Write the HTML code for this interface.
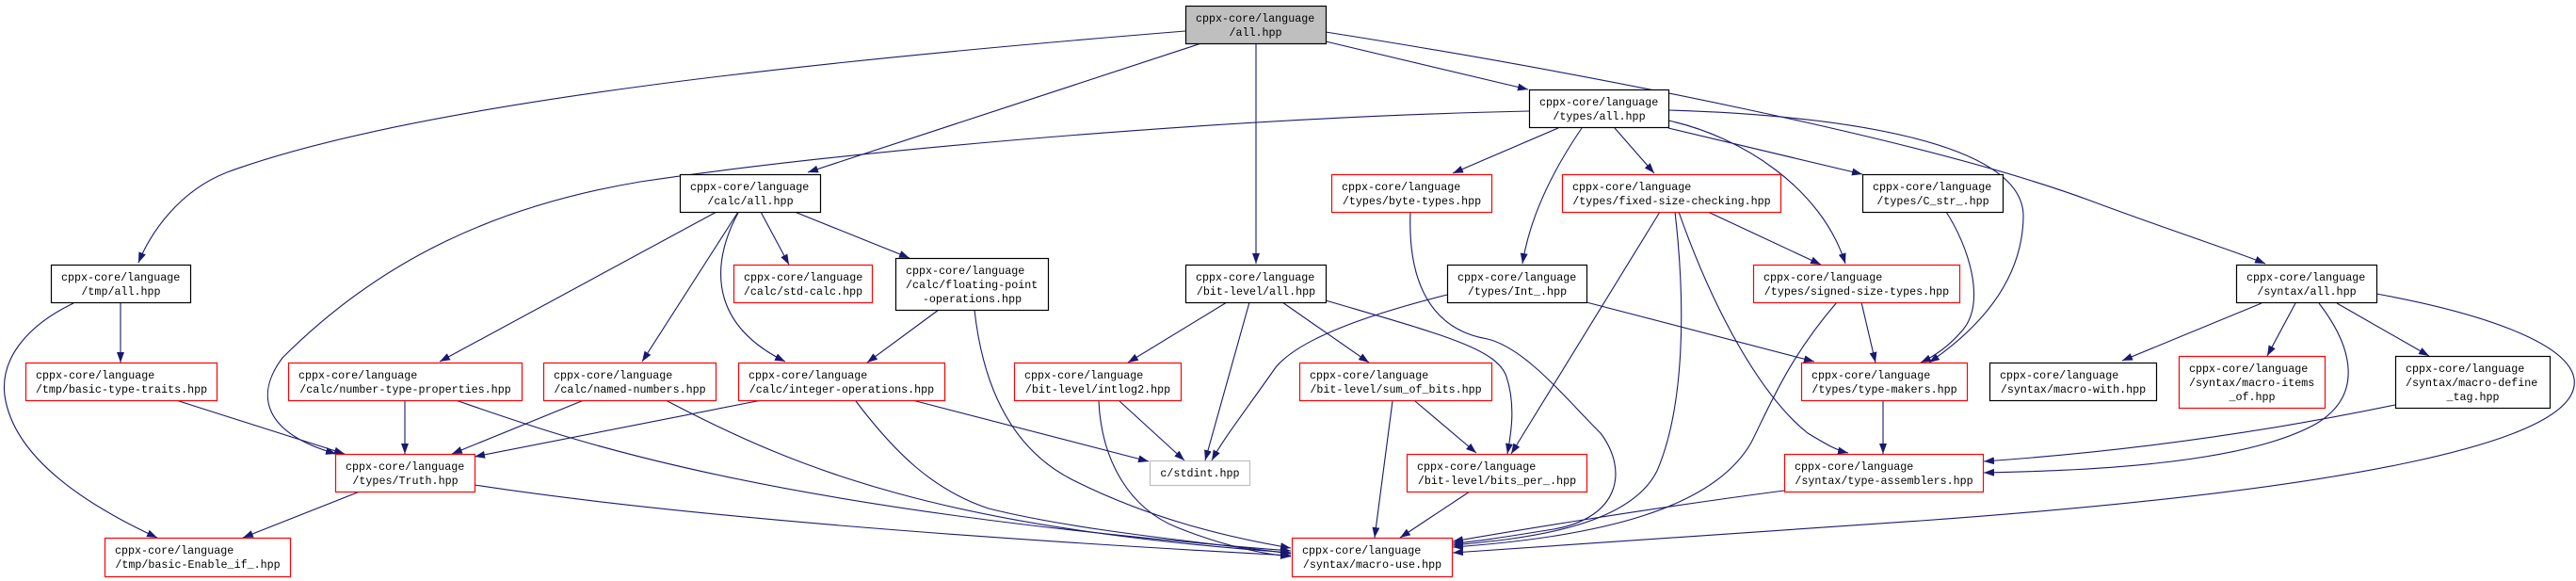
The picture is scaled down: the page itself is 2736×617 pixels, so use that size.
<!DOCTYPE html>
<html><head><meta charset="utf-8"><style>
html,body{margin:0;padding:0;background:#fff;}
svg{display:block;}
text{font-family:"Liberation Mono",monospace;font-size:11.7px;fill:#000;}
.e{fill:none;stroke:#191970;stroke-width:1.1;marker-end:url(#a);}
</style></head><body>
<svg width="2736" height="617" viewBox="0 0 2736 617" xmlns="http://www.w3.org/2000/svg">
<defs><marker id="a" markerUnits="userSpaceOnUse" markerWidth="11" markerHeight="8" refX="11" refY="4" orient="auto"><path d="M0,0 L11,4 L0,8 z" fill="#191970"/></marker></defs>
<g>
<path class="e" d="M1259,33 C900,62 450,106 241,183 C190,203 160,247 147,279"/>
<path class="e" d="M1276,46 L858,183"/>
<path class="e" d="M1334,46 L1334,280"/>
<path class="e" d="M1408,44 L1623,95"/>
<path class="e" d="M1408,34 C1700,80 2050,150 2220,213 C2300,243 2380,269 2406,280"/>
<path class="e" d="M1624,118 C1300,125 900,160 680,193 C520,220 400,280 300,380 C270,420 280,460 357,482"/>
<path class="e" d="M1655,136 L1543,184"/>
<path class="e" d="M1680,136 C1650,180 1625,230 1617,280"/>
<path class="e" d="M1715,136 L1757,184"/>
<path class="e" d="M1772,128 C1850,145 1935,200 1960,280"/>
<path class="e" d="M1772,136 L1978,185"/>
<path class="e" d="M1772,117 C1950,122 2150,150 2149,230 C2148,300 2100,350 2049,385"/>
<path class="e" d="M761,225 L467,384"/>
<path class="e" d="M784,225 L682,384"/>
<path class="e" d="M784,226 C760,270 745,340 834,384"/>
<path class="e" d="M808,225 L838,281"/>
<path class="e" d="M844,225 L966,274"/>
<path class="e" d="M128,321 L128,385"/>
<path class="e" d="M78,322 C30,345 0,380 5,420 C15,490 100,540 167,571"/>
<path class="e" d="M187,425 L366,482"/>
<path class="e" d="M430,425 L430,482"/>
<path class="e" d="M484,425 C600,465 800,540 1371,585"/>
<path class="e" d="M620,425 L480,482"/>
<path class="e" d="M707,425 C850,500 1000,560 1371,587"/>
<path class="e" d="M809,425 L504,485"/>
<path class="e" d="M909,426 C950,480 990,520 1050,540 C1150,565 1300,578 1371,588"/>
<path class="e" d="M969,425 L1220,490"/>
<path class="e" d="M997,329 L921,385"/>
<path class="e" d="M1035,329 C1045,420 1080,480 1140,510 C1220,550 1300,570 1371,582"/>
<path class="e" d="M382,522 L258,571"/>
<path class="e" d="M504,515 C700,545 1000,570 1371,590"/>
<path class="e" d="M1303,321 L1198,385"/>
<path class="e" d="M1327,321 L1280,489"/>
<path class="e" d="M1362,321 L1454,385"/>
<path class="e" d="M1408,319 C1530,355 1590,370 1600,400 C1610,430 1605,460 1601,482"/>
<path class="e" d="M1537,313 C1450,335 1380,360 1355,390 C1320,440 1300,465 1287,489"/>
<path class="e" d="M1685,321 L1927,384"/>
<path class="e" d="M1189,426 L1258,489"/>
<path class="e" d="M1167,426 C1170,490 1200,540 1250,560 C1300,580 1340,588 1371,591"/>
<path class="e" d="M1503,426 L1568,481"/>
<path class="e" d="M1479,426 L1460,571"/>
<path class="e" d="M1561,522 L1487,571"/>
<path class="e" d="M1498,225 C1495,300 1520,350 1580,360 C1620,370 1660,420 1700,460 C1730,500 1720,550 1650,562 C1600,570 1570,575 1543,577"/>
<path class="e" d="M1763,225 L1605,482"/>
<path class="e" d="M1779,225 C1790,320 1790,430 1760,500 C1730,560 1620,572 1543,579"/>
<path class="e" d="M1783,225 C1820,330 1870,420 1920,460 C1940,472 1950,478 1963,481"/>
<path class="e" d="M1814,225 L1934,281"/>
<path class="e" d="M1977,321 L1992,385"/>
<path class="e" d="M1951,321 C1900,380 1880,430 1860,470 C1820,540 1700,570 1543,581"/>
<path class="e" d="M2000,425 L2000,482"/>
<path class="e" d="M1895,521 C1750,540 1600,565 1543,575"/>
<path class="e" d="M2067,225 C2090,260 2110,320 2085,350 C2070,368 2055,378 2040,385"/>
<path class="e" d="M2402,322 L2254,383"/>
<path class="e" d="M2438,322 L2408,378"/>
<path class="e" d="M2482,322 L2580,378"/>
<path class="e" d="M2463,322 C2500,370 2510,420 2460,450 C2380,495 2200,500 2107,502"/>
<path class="e" d="M2524,312 C2650,335 2740,370 2734,410 C2725,470 2500,520 2040,553 C1800,570 1600,583 1543,587"/>
<path class="e" d="M2544,430 C2400,460 2250,480 2107,490"/>
</g>
<g stroke-width="1.2">
<!-- boxes -->
<rect x="1259.5" y="6.5" width="149" height="40" fill="#bfbfbf" stroke="#000"/>
<text x="1270" y="23">cppx-core/language</text><text x="1333.5" y="38" text-anchor="middle">/all.hpp</text>

<rect x="1624.5" y="95.5" width="148" height="40" fill="#fff" stroke="#000"/>
<text x="1635" y="112">cppx-core/language</text><text x="1698.5" y="127" text-anchor="middle">/types/all.hpp</text>

<rect x="722.5" y="185.5" width="149" height="40" fill="#fff" stroke="#000"/>
<text x="733" y="202">cppx-core/language</text><text x="797" y="217" text-anchor="middle">/calc/all.hpp</text>

<rect x="1414.5" y="185.5" width="170" height="40" fill="#fff" stroke="#f00"/>
<text x="1425" y="202">cppx-core/language</text><text x="1499.5" y="217" text-anchor="middle">/types/byte-types.hpp</text>

<rect x="1659.5" y="185.5" width="232" height="40" fill="#fff" stroke="#f00"/>
<text x="1670" y="202">cppx-core/language</text><text x="1775.5" y="217" text-anchor="middle">/types/fixed-size-checking.hpp</text>

<rect x="1978.5" y="185.5" width="149" height="40" fill="#fff" stroke="#000"/>
<text x="1989" y="202">cppx-core/language</text><text x="2053" y="217" text-anchor="middle">/types/C_str_.hpp</text>

<rect x="54.5" y="281.5" width="148" height="40" fill="#fff" stroke="#000"/>
<text x="65" y="298">cppx-core/language</text><text x="128.5" y="313" text-anchor="middle">/tmp/all.hpp</text>

<rect x="779.5" y="281.5" width="147" height="40" fill="#fff" stroke="#f00"/>
<text x="790" y="298">cppx-core/language</text><text x="853" y="313" text-anchor="middle">/calc/std-calc.hpp</text>

<rect x="951.5" y="274.5" width="162" height="55" fill="#fff" stroke="#000"/>
<text x="962" y="291">cppx-core/language</text><text x="962" y="306">/calc/floating-point</text><text x="1032.5" y="321" text-anchor="middle">-operations.hpp</text>

<rect x="1259.5" y="281.5" width="149" height="40" fill="#fff" stroke="#000"/>
<text x="1270" y="298">cppx-core/language</text><text x="1334" y="313" text-anchor="middle">/bit-level/all.hpp</text>

<rect x="1537.5" y="281.5" width="148" height="40" fill="#fff" stroke="#000"/>
<text x="1548" y="298">cppx-core/language</text><text x="1611.5" y="313" text-anchor="middle">/types/Int_.hpp</text>

<rect x="1862.5" y="281.5" width="219" height="40" fill="#fff" stroke="#f00"/>
<text x="1873" y="298">cppx-core/language</text><text x="1972" y="313" text-anchor="middle">/types/signed-size-types.hpp</text>

<rect x="2375.5" y="281.5" width="149" height="40" fill="#fff" stroke="#000"/>
<text x="2386" y="298">cppx-core/language</text><text x="2450" y="313" text-anchor="middle">/syntax/all.hpp</text>

<rect x="27.5" y="385.5" width="203" height="40" fill="#fff" stroke="#f00"/>
<text x="38" y="402">cppx-core/language</text><text x="129" y="417" text-anchor="middle">/tmp/basic-type-traits.hpp</text>

<rect x="306.5" y="385.5" width="248" height="40" fill="#fff" stroke="#f00"/>
<text x="317" y="402">cppx-core/language</text><text x="430.5" y="417" text-anchor="middle">/calc/number-type-properties.hpp</text>

<rect x="577.5" y="385.5" width="183" height="40" fill="#fff" stroke="#f00"/>
<text x="588" y="402">cppx-core/language</text><text x="669" y="417" text-anchor="middle">/calc/named-numbers.hpp</text>

<rect x="784.5" y="385.5" width="219" height="40" fill="#fff" stroke="#f00"/>
<text x="795" y="402">cppx-core/language</text><text x="894" y="417" text-anchor="middle">/calc/integer-operations.hpp</text>

<rect x="1077.5" y="385.5" width="177" height="40" fill="#fff" stroke="#f00"/>
<text x="1088" y="402">cppx-core/language</text><text x="1166" y="417" text-anchor="middle">/bit-level/intlog2.hpp</text>

<rect x="1380.5" y="385.5" width="204" height="40" fill="#fff" stroke="#f00"/>
<text x="1391" y="402">cppx-core/language</text><text x="1482.5" y="417" text-anchor="middle">/bit-level/sum_of_bits.hpp</text>

<rect x="1913.5" y="385.5" width="176" height="40" fill="#fff" stroke="#f00"/>
<text x="1924" y="402">cppx-core/language</text><text x="2001.5" y="417" text-anchor="middle">/types/type-makers.hpp</text>

<rect x="2113.5" y="385.5" width="177" height="40" fill="#fff" stroke="#000"/>
<text x="2124" y="402">cppx-core/language</text><text x="2202" y="417" text-anchor="middle">/syntax/macro-with.hpp</text>

<rect x="2314.5" y="378.5" width="155" height="55" fill="#fff" stroke="#f00"/>
<text x="2325" y="395">cppx-core/language</text><text x="2325" y="410">/syntax/macro-items</text><text x="2392" y="425" text-anchor="middle">_of.hpp</text>

<rect x="2544.5" y="378.5" width="164" height="55" fill="#fff" stroke="#000"/>
<text x="2555" y="395">cppx-core/language</text><text x="2555" y="410">/syntax/macro-define</text><text x="2626.5" y="425" text-anchor="middle">_tag.hpp</text>

<rect x="356.5" y="482.5" width="148" height="40" fill="#fff" stroke="#f00"/>
<text x="367" y="499">cppx-core/language</text><text x="430.5" y="514" text-anchor="middle">/types/Truth.hpp</text>

<rect x="1221.5" y="489.5" width="106" height="26" fill="#fff" stroke="#bfbfbf"/>
<text x="1274.5" y="506" text-anchor="middle">c/stdint.hpp</text>

<rect x="1494.5" y="482.5" width="191" height="40" fill="#fff" stroke="#f00"/>
<text x="1505" y="499">cppx-core/language</text><text x="1590" y="514" text-anchor="middle">/bit-level/bits_per_.hpp</text>

<rect x="1895.5" y="482.5" width="211" height="40" fill="#fff" stroke="#f00"/>
<text x="1906" y="499">cppx-core/language</text><text x="2001" y="514" text-anchor="middle">/syntax/type-assemblers.hpp</text>

<rect x="111.5" y="571.5" width="197" height="41" fill="#fff" stroke="#f00"/>
<text x="122" y="588">cppx-core/language</text><text x="210" y="603" text-anchor="middle">/tmp/basic-Enable_if_.hpp</text>

<rect x="1372.5" y="571.5" width="170" height="41" fill="#fff" stroke="#f00"/>
<text x="1383" y="588">cppx-core/language</text><text x="1457.5" y="603" text-anchor="middle">/syntax/macro-use.hpp</text>
</g>
</svg>
</body></html>
